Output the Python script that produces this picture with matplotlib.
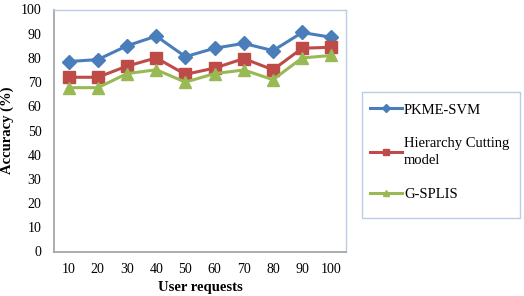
import numpy as np
import matplotlib.pyplot as plt
from matplotlib.patches import Rectangle

# data
requests = ['10', '20', '30', '40', '50', '60', '70', '80', '90', '100']
pkme_svm = [78.5, 79.3, 85, 89, 80.5, 84, 86, 83, 90.5, 88.5]
hierarchy = [72, 72, 76.6, 80, 73.2, 75.8, 79.7, 75.1, 84, 84.4]
g_splis = [67.7, 67.7, 73.5, 75.1, 70, 73.5, 75, 71, 80, 81]

plt.rcParams['font.family'] = ['Liberation Serif', 'DejaVu Serif']

fig = plt.figure(figsize=(5.24, 2.96), dpi=100)
ax = fig.add_axes([54/524, 44.5/296, 292/524, 242/296])

x = np.arange(len(requests))
ax.plot(x, pkme_svm, color='#4A7EBB', lw=2.2, marker='D', ms=7,
        label='PKME-SVM')
ax.plot(x, hierarchy, color='#BE4B48', lw=2.2, marker='s', ms=8.5,
        label='Hierarchy Cutting\nmodel')
ax.plot(x, g_splis, color='#98B954', lw=2.2, marker='^', ms=9,
        label='G-SPLIS')

ax.set_xlim(-0.5, len(requests) - 0.5)
ax.set_ylim(0, 100)
ax.set_yticks(range(0, 101, 10))
ax.set_xticks(x)
ax.set_xticklabels(requests)
ax.tick_params(axis='both', length=0, labelsize=10, colors='black')
ax.tick_params(axis='x', pad=8)
ax.tick_params(axis='y', pad=9)

for side in ['left', 'bottom']:
    ax.spines[side].set_color('#A6A6A6')
    ax.spines[side].set_linewidth(1.3)
for side in ['top', 'right']:
    ax.spines[side].set_color('#B9CDE5')
    ax.spines[side].set_linewidth(1.0)

ax.set_xlabel('User requests', fontsize=10.5, fontweight='bold', labelpad=4)
ax.set_ylabel('Accuracy (%)', fontsize=10.5, fontweight='bold', labelpad=5)

# legend box drawn separately so its height matches the reference
fig.patches.append(Rectangle((362/524, 78/296), 158/524, 126/296,
                             transform=fig.transFigure, fill=False,
                             edgecolor='#B9CDE5', lw=1.0))
leg = ax.legend(loc='upper left', bbox_to_anchor=(366/524, 197/296),
                bbox_transform=fig.transFigure, borderaxespad=0,
                frameon=False, fontsize=10.5,
                handlelength=2.2, handletextpad=0.1, markerscale=0.55,
                labelspacing=1.4, borderpad=0.3)
for t in leg.get_texts():
    t.set_linespacing(1.45)

fig.savefig('out.png', dpi=100)
